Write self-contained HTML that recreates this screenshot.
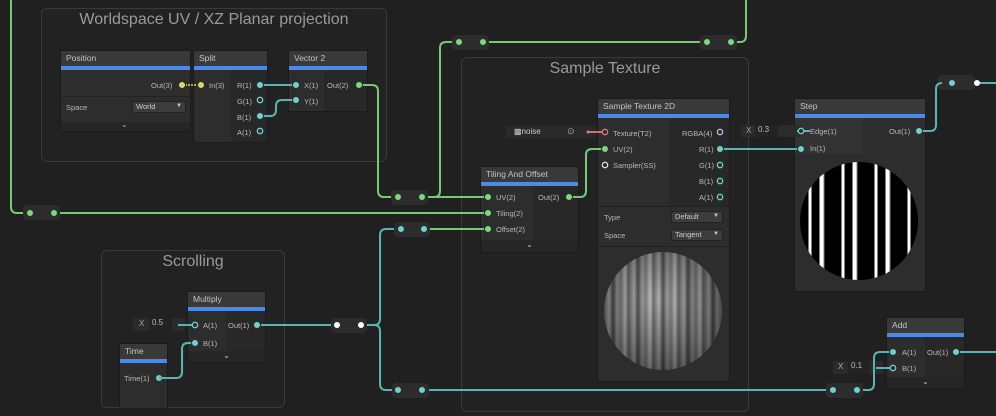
<!DOCTYPE html>
<html><head><meta charset="utf-8"><style>
body{margin:0;width:996px;height:416px;background:#202020;overflow:hidden;position:relative;font-family:"Liberation Sans",sans-serif;}
.g{position:absolute;border:1px solid #3a3a3a;border-radius:6px;background:#222;}
.gt{position:absolute;left:0;right:0;top:2px;text-align:center;color:#9a9a9a;font-size:16px;}
.n{position:absolute;background:#2d2d2d;border:1px solid #1b1b1b;}
.h{height:15px;background:#393939;color:#c4c4c4;font-size:8.5px;line-height:15px;padding-left:5px;border-bottom:4px solid #4a8ae8;}
.t{position:absolute;color:#b8b8b8;font-size:7.5px;white-space:nowrap;}
.r{position:absolute;background:#2c2c2c;border-radius:4px;}
.dd{position:absolute;background:#3c3c3c;border:1px solid #222;color:#ccc;font-size:7.5px;line-height:9px;padding-left:3px;border-radius:2px;}
.fld{position:absolute;background:#2b2b2b;color:#bbb;font-size:8px;}
svg{position:absolute;left:0;top:0;}
</style></head><body>
<div class="g" style="left:41px;top:8px;width:344px;height:152px"><div class="gt">Worldspace UV / XZ Planar projection</div></div>
<div class="g" style="left:461px;top:57px;width:286px;height:353px"><div class="gt">Sample Texture</div></div>
<div class="g" style="left:101px;top:250px;width:182px;height:156px"><div class="gt">Scrolling</div></div>

<!-- Position -->
<div class="n" style="left:60px;top:50px;width:129px;height:80px"><div class="h">Position</div>
<div style="position:absolute;top:45px;left:0;right:0;height:1px;background:#222"></div>
<div style="position:absolute;top:71px;left:0;right:0;height:9px;background:#262626"></div></div>
<span class="t" style="left:151px;top:81px">Out(3)</span>
<span class="t" style="left:66px;top:103px">Space</span>
<div class="dd" style="left:132px;top:101px;width:49px;height:10px">World<span style="position:absolute;right:3px;font-size:6px">▼</span></div>
<span class="t" style="left:121px;top:120px;font-size:8px">⌄</span>
<!-- Split -->
<div class="n" style="left:193px;top:50px;width:73px;height:91px"><div class="h">Split</div>
<div style="position:absolute;left:37px;top:19px;right:0;bottom:0;background:#282828"></div></div>
<span class="t" style="left:209px;top:81px">In(3)</span>
<span class="t" style="left:237px;top:81px">R(1)</span><span class="t" style="left:237px;top:97px">G(1)</span>
<span class="t" style="left:237px;top:113px">B(1)</span><span class="t" style="left:237px;top:128px">A(1)</span>
<!-- Vector2 -->
<div class="n" style="left:288px;top:50px;width:78px;height:60px"><div class="h">Vector 2</div>
<div style="position:absolute;left:35px;top:19px;right:0;bottom:0;background:#282828"></div></div>
<span class="t" style="left:304px;top:81px">X(1)</span><span class="t" style="left:304px;top:97px">Y(1)</span>
<span class="t" style="left:327px;top:81px">Out(2)</span>

<!-- Tiling -->
<div class="n" style="left:480px;top:166px;width:97px;height:85px"><div class="h">Tiling And Offset</div>
<div style="position:absolute;left:52px;top:19px;right:0;height:55px;background:#282828"></div>
<div style="position:absolute;left:0;top:73px;right:0;bottom:0;background:#262626;color:#ccc;font-size:8px;text-align:center">⌄</div></div>
<span class="t" style="left:496px;top:193px">UV(2)</span><span class="t" style="left:496px;top:209px">Tiling(2)</span>
<span class="t" style="left:496px;top:225px">Offset(2)</span><span class="t" style="left:538px;top:193px">Out(2)</span>
<!-- Sample Texture 2D -->
<div class="n" style="left:597px;top:98px;width:131px;height:282px"><div class="h">Sample Texture 2D</div>
<div style="position:absolute;left:71px;top:19px;right:0;height:88px;background:#282828"></div>
<div style="position:absolute;left:0;top:107px;right:0;height:1px;background:#222"></div>
<div style="position:absolute;left:0;top:147px;right:0;height:1px;background:#222"></div>
<div style="position:absolute;left:6px;top:153px;width:118px;height:118px;border-radius:50%;background:radial-gradient(circle at 45% 40%,rgba(255,255,255,.1),rgba(0,0,0,.45) 80%),repeating-linear-gradient(90deg,#666 0,#aaa 5px,#444 9px,#999 13px,#777 17px,#bbb 21px,#555 25px)"></div></div>
<span class="t" style="left:613px;top:129px">Texture(T2)</span><span class="t" style="left:613px;top:145px">UV(2)</span>
<span class="t" style="left:613px;top:161px">Sampler(SS)</span>
<span class="t" style="left:682px;top:129px">RGBA(4)</span><span class="t" style="left:699px;top:145px">R(1)</span>
<span class="t" style="left:699px;top:161px">G(1)</span><span class="t" style="left:699px;top:177px">B(1)</span><span class="t" style="left:699px;top:193px">A(1)</span>
<span class="t" style="left:604px;top:213px">Type</span><span class="t" style="left:604px;top:231px">Space</span>
<div class="dd" style="left:671px;top:211px;width:47px;height:10px">Default<span style="position:absolute;right:3px;font-size:6px">▼</span></div>
<div class="dd" style="left:671px;top:229px;width:47px;height:10px">Tangent<span style="position:absolute;right:3px;font-size:6px">▼</span></div>
<div class="fld" style="left:506px;top:126px;width:90px;height:12px;background:#2a2a2a"></div>
<span class="t" style="left:514px;top:127px;color:#ccc;font-size:8px">▩noise</span>
<span class="t" style="left:567px;top:126px;color:#aaa;font-size:9px">⊙</span>

<!-- Step -->
<div class="n" style="left:794px;top:98px;width:130px;height:192px"><div class="h">Step</div>
<div style="position:absolute;left:0;top:19px;width:68px;height:36px;background:#333"></div>
<div style="position:absolute;left:5px;top:63px;width:118px;height:118px;border-radius:50%;background:repeating-linear-gradient(90deg,#000 0,#000 8px,#fff 9px,#fff 11px,#000 12px,#000 19px,#fff 20px,#fff 23px,#000 25px,#000 33px)"></div></div>
<span class="t" style="left:810px;top:127px">Edge(1)</span><span class="t" style="left:810px;top:144px">In(1)</span>
<span class="t" style="left:889px;top:127px">Out(1)</span>
<div class="fld" style="left:741px;top:125px;width:60px;height:12px"><span style="position:absolute;left:5px;top:1px;color:#aaa">X</span><span style="position:absolute;left:14px;top:0;width:20px;height:12px;background:#232323;padding-left:3px">0.3</span></div>

<!-- Multiply -->
<div class="n" style="left:187px;top:291px;width:77px;height:70px"><div class="h">Multiply</div>
<div style="position:absolute;left:38px;top:19px;right:0;height:40px;background:#282828"></div>
<div style="position:absolute;left:0;top:59px;right:0;bottom:0;background:#262626;color:#ccc;font-size:8px;text-align:center;line-height:10px">⌄</div></div>
<span class="t" style="left:203px;top:321px">A(1)</span><span class="t" style="left:203px;top:339px">B(1)</span>
<span class="t" style="left:228px;top:321px">Out(1)</span>
<div class="fld" style="left:133px;top:318px;width:52px;height:13px"><span style="position:absolute;left:6px;top:1px;color:#aaa">X</span><span style="position:absolute;left:16px;top:0;width:20px;height:13px;background:#232323;padding-left:3px">0.5</span></div>
<!-- Time -->
<div class="n" style="left:119px;top:343px;width:47px;height:64px"><div class="h">Time</div></div>
<span class="t" style="left:124px;top:374px">Time(1)</span>
<!-- Add -->
<div class="n" style="left:886px;top:317px;width:77px;height:70px"><div class="h">Add</div>
<div style="position:absolute;left:38px;top:19px;right:0;height:40px;background:#282828"></div>
<div style="position:absolute;left:0;top:59px;right:0;bottom:0;background:#262626;color:#ccc;font-size:8px;text-align:center;line-height:10px">⌄</div></div>
<span class="t" style="left:902px;top:348px">A(1)</span><span class="t" style="left:902px;top:364px">B(1)</span>
<span class="t" style="left:927px;top:348px">Out(1)</span>
<div class="fld" style="left:833px;top:361px;width:50px;height:13px"><span style="position:absolute;left:5px;top:1px;color:#aaa">X</span><span style="position:absolute;left:15px;top:0;width:19px;height:13px;background:#232323;padding-left:3px">0.1</span></div>

<!-- reroutes -->
<div class="r" style="left:452px;top:35px;width:37px;height:15px"></div>
<div class="r" style="left:700px;top:35px;width:37px;height:15px"></div>
<div class="r" style="left:391px;top:190px;width:37px;height:15px"></div>
<div class="r" style="left:23px;top:205px;width:37px;height:15px"></div>
<div class="r" style="left:394px;top:222px;width:36px;height:15px"></div>
<div class="r" style="left:331px;top:318px;width:36px;height:15px"></div>
<div class="r" style="left:392px;top:383px;width:37px;height:15px"></div>
<div class="r" style="left:826px;top:383px;width:37px;height:15px"></div>
<div class="r" style="left:938px;top:75px;width:37px;height:15px"></div>

<svg width="996" height="416" fill="none">
<g stroke="#78c878" stroke-width="2">
<path d="M359 85 H372 Q378 85 378 91 V191 Q378 197 384 197 H391"/>
<path d="M428 197 H434 Q440 197 440 191 V48 Q440 42 446 42 H452"/>
<path d="M489 42 H700"/>
<path d="M737 42 H740 Q746 42 746 36 V0"/>
<path d="M11 0 V207 Q11 213 17 213 H23"/>
<path d="M60 213 H486"/>
<path d="M428 197 H486"/>
<path d="M430 229 H486"/>
<path d="M570 197 H580 Q586 197 586 191 V155 Q586 149 592 149 H605"/>
</g>
<g stroke="#5ab4b4" stroke-width="2">
<path d="M262 85 H296"/>
<path d="M262 116 H270 Q276 116 276 110 V106 Q276 100 282 100 H296"/>
<path d="M721 149 H801"/>
<path d="M920 131 H930 Q936 131 936 125 V89 Q936 83 942 83"/>
<path d="M975 83 H996"/>
<path d="M257 325 H331"/>
<path d="M367 325 H374 Q380 325 380 319 V235 Q380 229 386 229 H394"/>
<path d="M374 325 Q380 325 380 331 V384 Q380 390 386 390 H392"/>
<path d="M429 390 H826"/>
<path d="M863 390 H868 Q874 390 874 384 V358 Q874 352 880 352 H893"/>
<path d="M958 352 H996"/>
<path d="M176 378 H170 M176 378 Q182 378 182 372 V349 Q182 343 188 343 H195"/>
<path d="M178 325 H195"/>
<path d="M876 368 H893"/>
<path d="M797 131 H810"/>
</g>
<path d="M182 85 H201" stroke="#d8d86a" stroke-width="1.5" stroke-dasharray="2 1"/>
<path d="M588 132 H605" stroke="#d07070" stroke-width="2"/>
<g fill="#7fd87f" stroke="#2d2d2d" stroke-width="1">
<circle cx="359" cy="85" r="3.5"/><circle cx="398" cy="197" r="3.5"/><circle cx="422" cy="197" r="3.5"/>
<circle cx="459" cy="42" r="3.5"/><circle cx="483" cy="42" r="3.5"/><circle cx="707" cy="42" r="3.5"/><circle cx="731" cy="42" r="3.5"/>
<circle cx="30" cy="213" r="3.5"/><circle cx="54" cy="213" r="3.5"/>
<circle cx="488" cy="197" r="3.5"/><circle cx="488" cy="213" r="3.5"/><circle cx="488" cy="229" r="3.5"/>
<circle cx="569" cy="197" r="3.5"/><circle cx="605" cy="149" r="3.5"/>
</g>
<g fill="#6fd0d0" stroke="#2d2d2d" stroke-width="1">
<circle cx="260" cy="85" r="3.5"/><circle cx="260" cy="116" r="3.5"/><circle cx="296" cy="85" r="3.5"/><circle cx="296" cy="100" r="3.5"/>
<circle cx="720" cy="149" r="3.5"/><circle cx="801" cy="149" r="3.5"/><circle cx="919" cy="131" r="3.5"/>
<circle cx="952" cy="83" r="3.5"/><circle cx="401" cy="229" r="3.5"/><circle cx="424" cy="229" r="3.5"/>
<circle cx="257" cy="325" r="3.5"/><circle cx="195" cy="343" r="3.5"/><circle cx="159" cy="378" r="3.5"/>
<circle cx="398" cy="390" r="3.5"/><circle cx="422" cy="390" r="3.5"/><circle cx="833" cy="390" r="3.5"/><circle cx="857" cy="390" r="3.5"/>
<circle cx="893" cy="352" r="3.5"/><circle cx="956" cy="352" r="3.5"/>
</g>
<path d="M159 378 H176" stroke="#5ab4b4" stroke-width="2"/>
<g fill="#fff"><circle cx="337" cy="325" r="3"/><circle cx="361" cy="325" r="3"/><circle cx="977" cy="83" r="3"/></g>
<g fill="#2d2d2d" stroke="#6fd0d0" stroke-width="1.3">
<circle cx="260" cy="100" r="2.7"/><circle cx="260" cy="131" r="2.7"/>
<circle cx="720" cy="165" r="2.7"/><circle cx="720" cy="181" r="2.7"/><circle cx="720" cy="197" r="2.7"/>
<circle cx="801" cy="131" r="2.7"/><circle cx="195" cy="325" r="2.7"/><circle cx="893" cy="368" r="2.7"/>
</g>
<circle cx="720" cy="132" r="2.7" fill="#2d2d2d" stroke="#d8a8e8" stroke-width="1.3"/>
<circle cx="605" cy="132" r="2.7" fill="#2d2d2d" stroke="#e07878" stroke-width="1.3"/>
<circle cx="605" cy="165" r="2.7" fill="#2d2d2d" stroke="#ddd" stroke-width="1.3"/>
<circle cx="588" cy="132" r="1.5" fill="#e07878"/>
<g fill="#d8d86a" stroke="#2d2d2d"><circle cx="182" cy="85" r="3.5"/><circle cx="201" cy="85" r="3.5"/></g>
</svg>
</body></html>
